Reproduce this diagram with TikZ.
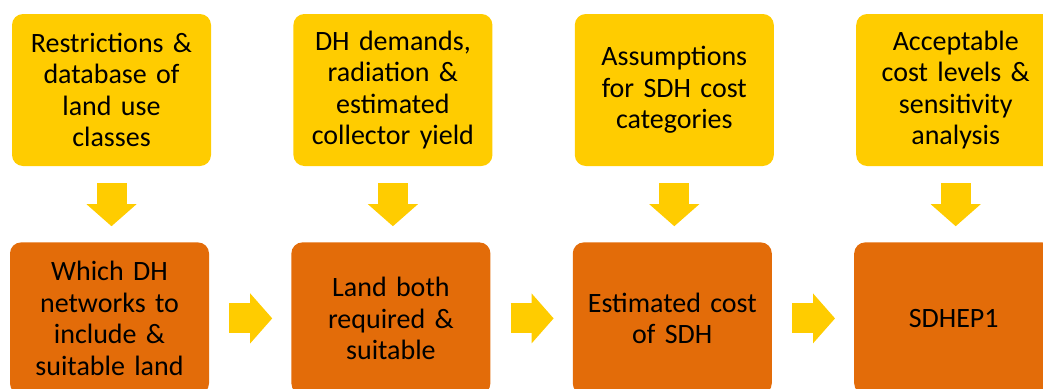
\documentclass[tikz,border=0pt]{standalone}
\usepackage{fontspec}
\setmainfont{Carlito}
\usetikzlibrary{arrows.meta,positioning}
\definecolor{sdhyellow}{HTML}{FFCC00}
\definecolor{sdhorange}{HTML}{E36C09}
\tikzset{
    inputbox/.style={fill=sdhyellow, rounded corners=11pt, align=center, font=\fontsize{28}{31.5}\selectfont, text width=190pt, minimum width=199pt, minimum height=152pt, inner sep=0pt},
    stepbox/.style={inputbox, fill=sdhorange},
    downflow/.style={draw=sdhyellow, line width=30pt, -{Triangle[width=50pt, length=22pt, line width=0pt]}, shorten <=17pt, shorten >=16pt},
    rightflow/.style={downflow, shorten <=20pt, shorten >=19pt}
}
\begin{document}
\begin{tikzpicture}[x=1pt, y=1pt, node distance=76pt and 82pt]
    \useasboundingbox (0,0) rectangle (1043,-388);
    \clip (0,0) rectangle (1043,-388);

    \node[inputbox] (restr) at (111.5,-90) {Restrictions \&\\database of\\land use\\classes};
    \node[inputbox, right=of restr] (demand) {DH demands,\\radiation \&\\estimated\\collector yield};
    \node[inputbox, right=of demand] (assum) {Assumptions\\for SDH cost\\categories};
    \node[inputbox, right=of assum] (levels) {Acceptable\\cost levels \&\\sensitivity\\analysis};

    \node[stepbox, below=of restr, xshift=-2pt] (netw) {Which DH\\networks to\\include \&\\suitable land};
    \node[stepbox, below=of demand, xshift=-2pt] (land) {Land both\\required \&\\suitable};
    \node[stepbox, below=of assum, xshift=-2pt] (cost) {Estimated cost\\of SDH};
    \node[stepbox, below=of levels, xshift=-2pt] (sdhep) {SDHEP1};

    \draw[downflow] (restr.south) -- (restr.south |- netw.north);
    \draw[downflow] (demand.south) -- (demand.south |- land.north);
    \draw[downflow] (assum.south) -- (assum.south |- cost.north);
    \draw[downflow] (levels.south) -- (levels.south |- sdhep.north);

    \draw[rightflow] (netw.east) -- (land.west);
    \draw[rightflow] (land.east) -- (cost.west);
    \draw[rightflow] (cost.east) -- (sdhep.west);
\end{tikzpicture}
\end{document}
